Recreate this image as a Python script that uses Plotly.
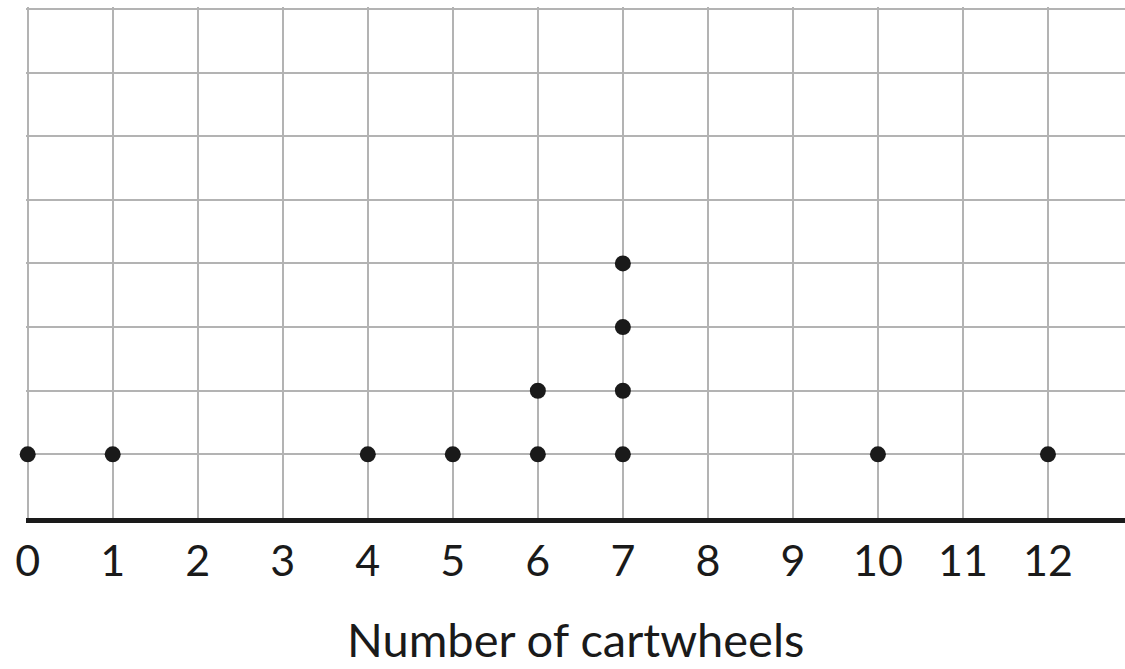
import plotly.graph_objects as go
from collections import Counter

# Data: number of cartwheels per person
cartwheels = [0, 1, 4, 5, 6, 6, 7, 7, 7, 7, 10, 12]
x_ticks = list(range(0, 13))
x_label = "Number of cartwheels"

# Stack the dots
xs, ys = [], []
seen = Counter()
for v in cartwheels:
    seen[v] += 1
    xs.append(v)
    ys.append(seen[v])

fig = go.Figure()
fig.add_trace(go.Scatter(
    x=xs, y=ys, mode="markers",
    marker=dict(size=16, color="#1a1a1a"),
    cliponaxis=False,
    showlegend=False, hoverinfo="skip",
))

fig.update_layout(
    width=1125, height=669,
    margin=dict(l=26, r=0, t=7, b=151, autoexpand=False),
    plot_bgcolor="white", paper_bgcolor="white",
    font=dict(family="Lato, sans-serif", color="#1a1a1a"),
    xaxis=dict(
        range=[-0.02, 12.906],
        tickmode="array", tickvals=x_ticks, ticktext=[str(t) for t in x_ticks],
        tickfont=dict(size=43, color="#1a1a1a"),
        showgrid=True, gridcolor="#b3b3b3", gridwidth=2,
        zeroline=False,
        showline=True, linecolor="#1a1a1a", linewidth=5,
        ticks="outside", ticklen=1, tickcolor="rgba(0,0,0,0)",
        automargin=False,
    ),
    yaxis=dict(
        range=[0, 8.03],
        tickvals=list(range(0, 9)),
        showticklabels=False,
        showgrid=True, gridcolor="#b3b3b3", gridwidth=2,
        zeroline=False, showline=False,
    ),
    annotations=[dict(
        text=x_label, xref="paper", yref="paper", x=0.5, y=0,
        xanchor="center", yanchor="middle", yshift=-121, showarrow=False,
        font=dict(size=47, color="#1a1a1a"),
    )],
)

fig.write_html("out.html", config={"displayModeBar": False},
               post_script="document.body.style.margin='0';")
